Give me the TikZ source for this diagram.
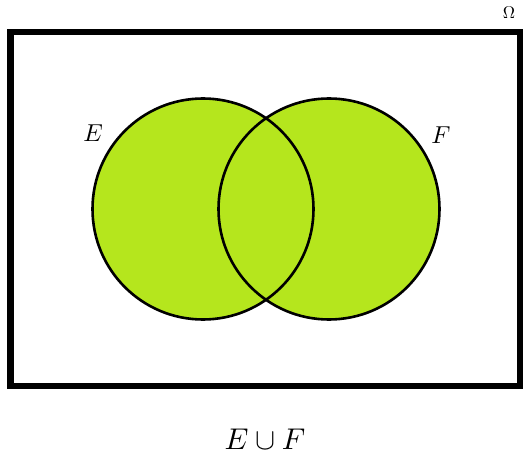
\documentclass[tikz,border=0pt]{standalone}
\definecolor{lime}{HTML}{B5E61D}
\tikzset{
  setfill/.style={circle, minimum size=221pt, inner sep=0pt, fill=lime},
  setline/.style={circle, minimum size=221pt, inner sep=0pt, draw=black, line width=2.6pt},
  setlabel/.style={inner sep=0pt, anchor=base, scale=2.45},
}
\begin{document}
\begin{tikzpicture}[x=1pt,y=-1pt]
\useasboundingbox (0,0) rectangle (523,452);
\draw[line width=6.5pt] (10.5,32) rectangle (520,386);
\node[setfill] (Efill) at (203,209) {};
\node[setfill] (Ffill) at (329,209) {};
\node[setline] (E) at (203,209) {};
\node[setline] (F) at (329,209) {};
\node[setlabel] (Elab) at (93,142) {$E$};
\node[setlabel] (Flab) at (441,143) {$F$};
\node[inner sep=0pt, anchor=base, scale=1.7] (Om) at (509,19) {$\Omega$};
\node[inner sep=0pt, anchor=base, scale=3.0] (U) at (265,449) {$E\cup F$};
\end{tikzpicture}
\end{document}
